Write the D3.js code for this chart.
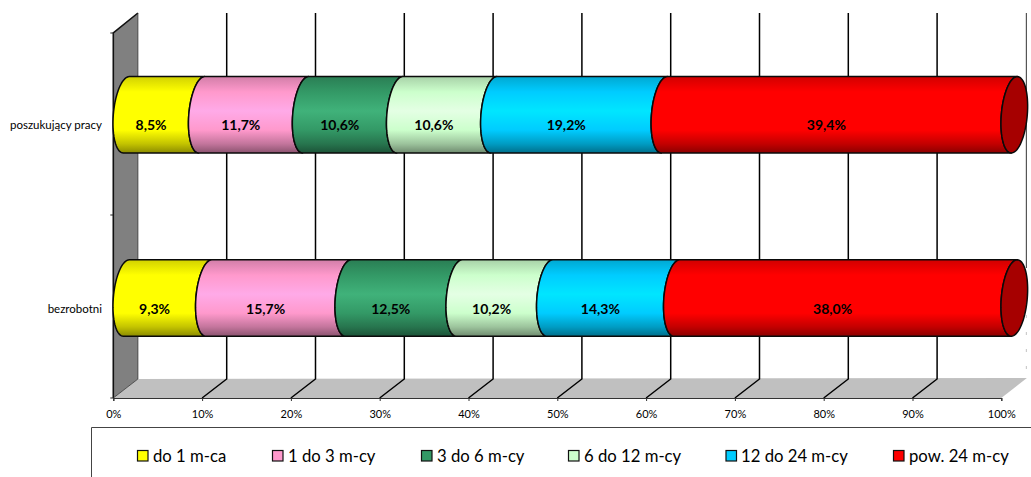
<!DOCTYPE html>
<html><head><meta charset="utf-8">
<script src="https://cdn.jsdelivr.net/npm/d3@7"></script>
<style>
html,body{margin:0;padding:0;background:#fff;overflow:hidden}
svg{display:block}
text{font-family:Lato,"Noto Sans",sans-serif;fill:#000}
</style></head><body><svg id="c" width="1031" height="477"></svg>
<script>
const categories=["poszukujący pracy","bezrobotni"];
const seriesNames=["do 1 m-ca","1 do 3 m-cy","3 do 6 m-cy","6 do 12 m-cy","12 do 24 m-cy","pow. 24 m-cy"];
const seriesColors=["#FFFF00","#FF99CC","#339966","#CCFFCC","#00CCFF","#FF0000"];
const seriesHighlights=["#FFFF00","#FFAAE8","#40B27A","#E4FFE4","#00E6FF","#FF0000"];
const poszukujacy=[8.5,11.7,10.6,10.6,19.2,39.4];
const bezrobotni=[9.3,15.7,12.5,10.2,14.3,38.0];
const rows=[poszukujacy,bezrobotni];
const xTicks=[0,10,20,30,40,50,60,70,80,90,100];
const legendX=[137,272,421,568,725.5,893];
const legendGap=[16,16,16,16,15.5,16];

const W=1031,H=477;
const svg=d3.select("#c");
const defs=svg.append("defs");
const x=d3.scaleLinear().domain([0,100]).range([113.3,1001.3]);
const y=d3.scalePoint().domain(categories).range([114.8,298]);
const floorY=398,backFloorY=379,topY=13,depthX=24.6,depthY=floorY-backFloorY;
const rx=13,ry=38.2,skew=3;

// wall and floor
svg.append("path").attr("d",d3.line()([[x(0),topY+depthY+1],[x(0)+depthX,topY],[x(0)+depthX,backFloorY],[x(0),floorY]])+"Z")
  .attr("fill","#808080");
svg.append("path").attr("d",d3.line()([[x(0),floorY],[x(100),floorY],[x(100)+depthX+1,backFloorY-1],[x(0)+depthX,backFloorY]])+"Z")
  .attr("fill","#c0c0c0");
svg.append("path").attr("d",d3.line()([[x(0),floorY],[x(0),topY+depthY+1],[x(0)+depthX,topY]]))
  .attr("fill","none").attr("stroke","#111").attr("stroke-width",1.6);
svg.append("path").attr("d",d3.line()([[x(0)+depthX,topY],[x(0)+depthX,backFloorY],[x(0),floorY]]))
  .attr("fill","none").attr("stroke","#333").attr("stroke-width",0.8);

// gridlines
svg.append("g").selectAll("path").data(xTicks.filter(t=>t>0)).join("path")
  .attr("d",t=>t<100
    ?d3.line()([[x(t)+depthX,topY],[x(t)+depthX,backFloorY],[x(t),floorY]])
    :d3.line()([[x(t)+depthX+.5,topY],[x(t)+depthX+.5,268]]))
  .attr("fill","none").attr("stroke",t=>t<100?"#000":"#555").attr("stroke-width",t=>t<100?1.5:1.2);
svg.append("line").attr("x1",x(100)+depthX+.5).attr("x2",x(100)+depthX+.5).attr("y1",315).attr("y2",372)
  .attr("stroke","#ccc").attr("stroke-width",1.2).attr("stroke-dasharray","3 14");

// floor front line + x axis
const gx=svg.append("g").attr("transform",`translate(0,${floorY})`)
  .call(d3.axisBottom(x).tickValues(xTicks).tickSize(3).tickPadding(9).tickFormat(d=>d+"%"));
gx.select(".domain").attr("stroke","#333").attr("stroke-width",1.2);
gx.selectAll(".tick line").attr("stroke","#333");
gx.selectAll("text").attr("font-size",11).style("font-family","Lato,sans-serif").attr("fill","#222");

// category axis
svg.append("g").selectAll("line").data([33,215,398]).join("line")
  .attr("x1",x(0)-3).attr("x2",x(0)).attr("y1",d=>d).attr("y2",d=>d).attr("stroke","#222");
svg.append("g").selectAll("text").data(categories).join("text")
  .attr("x",102).attr("y",c=>y(c)+10).attr("text-anchor","end").attr("dominant-baseline","central")
  .attr("font-size",11.5).attr("fill","#222").text(c=>c);

// gradients
seriesColors.forEach((c,i)=>{
  const base=d3.rgb(c);
  const g=defs.append("linearGradient").attr("id","g"+i).attr("x1",0).attr("x2",0).attr("y1",0).attr("y2",1);
  [[0,base.darker(0.55)],[0.2,base],[0.45,seriesHighlights[i]],[0.7,base],[0.88,base.darker(0.75)],[1,base.darker(1.7)]]
    .forEach(([o,col])=>g.append("stop").attr("offset",o).attr("stop-color",col));
});

// half-ellipse points along the left side of a bar section
function arcPts(cx,cy,dir){
  const a=d3.range(0,37).map(k=>Math.PI/2+k/36*Math.PI); // bottom -> left -> top
  const p=a.map(t=>[cx+rx*Math.cos(t)-skew*Math.sin(t),cy+ry*Math.sin(t)]);
  return dir?p:p.reverse();
}
const line=d3.line();
const bars=svg.append("g");
const labels=[];
rows.forEach((vals,r)=>{
  const cy=y(categories[r]);
  const cum=d3.cumsum(vals);
  vals.forEach((v,i)=>{
    const c0=x(i?cum[i-1]:0)+rx, c1=x(cum[i])+rx;
    bars.append("path").attr("d",line([...arcPts(c0,cy,true),...arcPts(c1,cy,false)])+"Z")
      .attr("fill",`url(#g${i})`).attr("stroke","#0a0a0a").attr("stroke-width",1.5).attr("stroke-linejoin","round");
    labels.push({x:x((i?cum[i-1]:0)+v/2),y:cy+10,t:v.toFixed(1).replace(".",",")+"%"});
  });
  // right end cap
  const c=x(100)+rx;
  const cap=d3.range(0,73).map(k=>{const t=k/72*2*Math.PI;return [c+rx*Math.cos(t)-skew*Math.sin(t),cy+ry*Math.sin(t)];});
  bars.append("path").attr("d",line(cap)+"Z").attr("fill","#A60000").attr("stroke","#0a0a0a").attr("stroke-width",1.5);
});
svg.append("g").selectAll("text").data(labels).join("text")
  .attr("x",d=>d.x).attr("y",d=>d.y).attr("text-anchor","middle").attr("dominant-baseline","central")
  .attr("font-size",14).attr("font-weight",700).text(d=>d.t);

// legend
svg.append("path").attr("d",d3.line()([[91.5,H],[91.5,427.5],[W,427.5]])).attr("fill","none").attr("stroke","#444").attr("stroke-width",1);
const lg=svg.append("g").selectAll("g").data(seriesNames).join("g").attr("transform",(d,i)=>`translate(${legendX[i]},450)`);
lg.append("rect").attr("x",.5).attr("y",.5).attr("width",10.5).attr("height",10.5).attr("fill",(d,i)=>seriesColors[i]).attr("stroke","#111").attr("stroke-width",1.2);
lg.append("text").attr("x",(d,i)=>legendGap[i]).attr("y",6).attr("dominant-baseline","central").attr("font-size",16.7).attr("fill","#222").text(d=>d);
</script></body></html>
